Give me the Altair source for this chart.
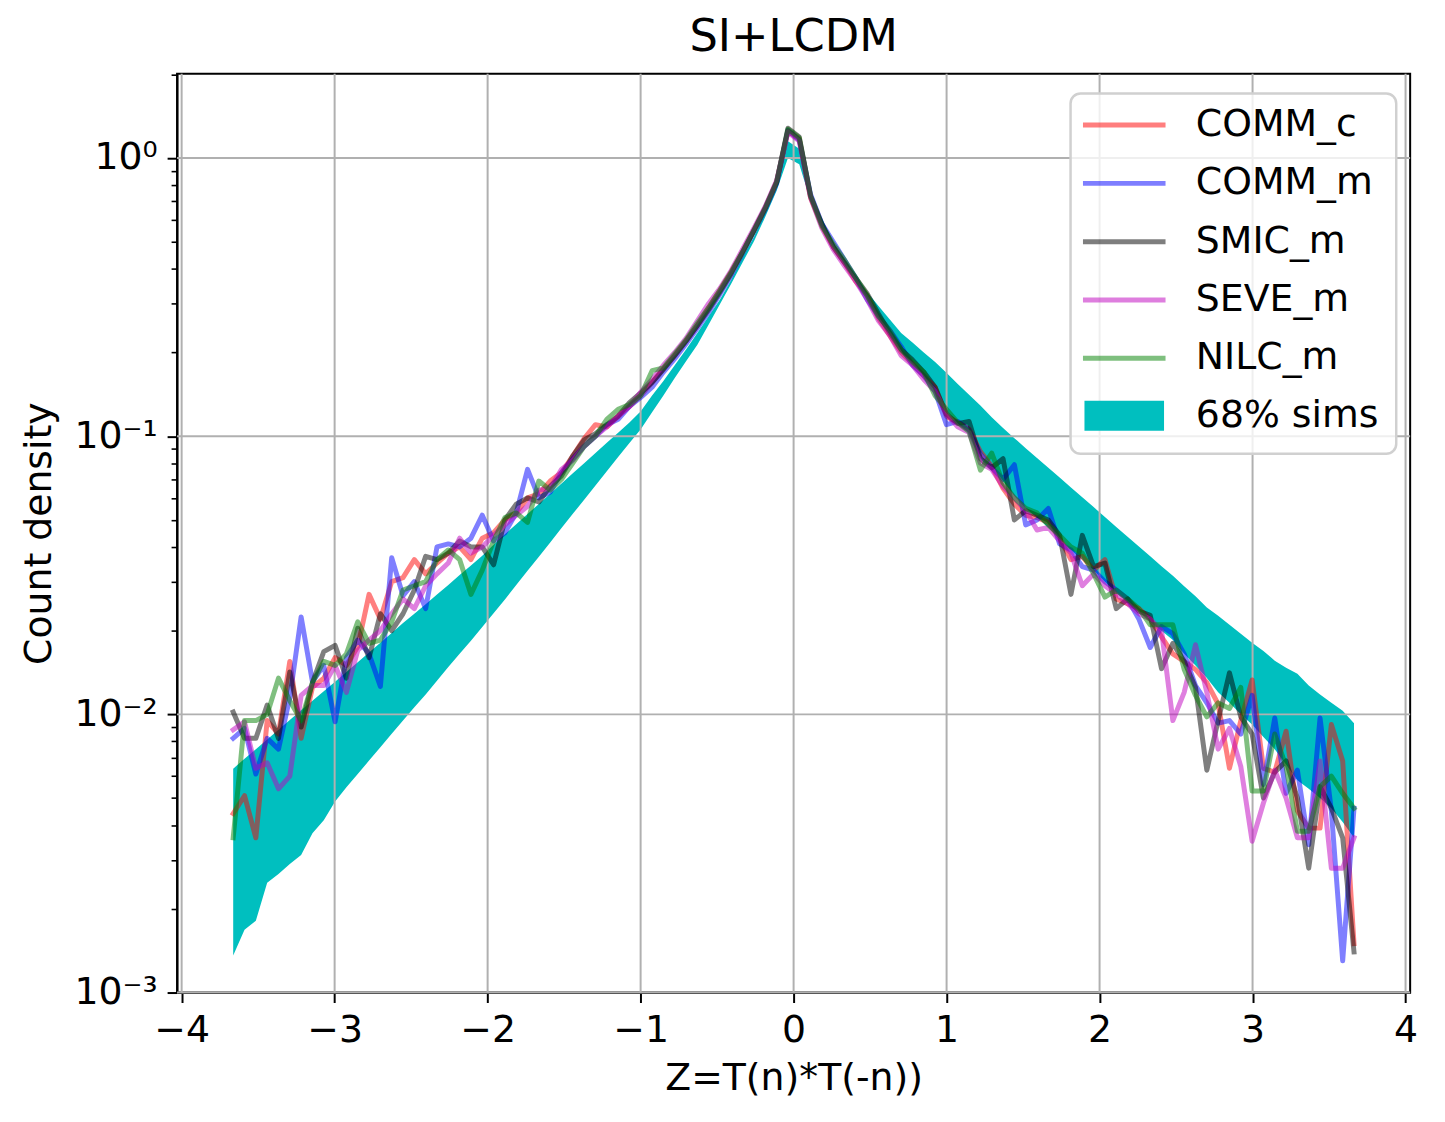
import altair as alt
import pandas as pd

# ---------------- data ----------------
x_centers = [-3.663, -3.589, -3.515, -3.441, -3.367, -3.293, -3.219, -3.145, -3.071, -2.997,
             -2.923, -2.849, -2.775, -2.701, -2.627, -2.553, -2.479, -2.405, -2.331, -2.257,
             -2.183, -2.109, -2.035, -1.961, -1.887, -1.813, -1.739, -1.665, -1.591, -1.517,
             -1.443, -1.369, -1.295, -1.221, -1.147, -1.073, -0.999, -0.925, -0.851, -0.777,
             -0.703, -0.629, -0.555, -0.481, -0.407, -0.333, -0.259, -0.185, -0.111, -0.037,
             0.037, 0.111, 0.185, 0.259, 0.333, 0.407, 0.481, 0.555, 0.629, 0.703,
             0.777, 0.851, 0.925, 0.999, 1.073, 1.147, 1.221, 1.295, 1.369, 1.443,
             1.517, 1.591, 1.665, 1.739, 1.813, 1.887, 1.961, 2.035, 2.109, 2.183,
             2.257, 2.331, 2.405, 2.479, 2.553, 2.627, 2.701, 2.775, 2.849, 2.923,
             2.997, 3.071, 3.145, 3.219, 3.293, 3.367, 3.441, 3.515, 3.589, 3.663]

comm_c = [0.0044, 0.0051, 0.0036, 0.0095, 0.0085, 0.0155, 0.0082, 0.0125, 0.0135, 0.0160,
          0.0150, 0.0175, 0.0270, 0.0220, 0.0300, 0.0310, 0.0360, 0.0320, 0.0350, 0.0380,
          0.0400, 0.0360, 0.0430, 0.0450, 0.0500, 0.0530, 0.0600, 0.0620, 0.0690, 0.0740,
          0.0850, 0.0980, 0.1100, 0.1080, 0.1180, 0.1280, 0.1400, 0.1560, 0.1750, 0.1950,
          0.220, 0.250, 0.290, 0.335, 0.390, 0.460, 0.550, 0.660, 0.820, 1.250,
          1.17, 0.72, 0.57, 0.48, 0.42, 0.36, 0.32, 0.265, 0.23, 0.20,
          0.182, 0.165, 0.150, 0.118, 0.112, 0.106, 0.088, 0.078, 0.065, 0.057,
          0.052, 0.051, 0.049, 0.043, 0.036, 0.037, 0.033, 0.036, 0.026, 0.025,
          0.024, 0.022, 0.019, 0.0165, 0.0155, 0.0145, 0.013, 0.0109, 0.0064, 0.0095,
          0.0133, 0.0064, 0.0062, 0.0087, 0.0045, 0.0039, 0.0039, 0.0092, 0.0068, 0.0015]

comm_m = [0.0082, 0.0089, 0.0061, 0.0082, 0.0075, 0.0115, 0.0224, 0.0131, 0.0150, 0.0094,
          0.0160, 0.0185, 0.0165, 0.0126, 0.0366, 0.0267, 0.0300, 0.0240, 0.0400, 0.0410,
          0.0400, 0.0430, 0.0520, 0.0420, 0.0450, 0.0530, 0.0760, 0.0600, 0.0630, 0.0740,
          0.0830, 0.0920, 0.1000, 0.1100, 0.1150, 0.1280, 0.1380, 0.1500, 0.1700, 0.1900,
          0.215, 0.245, 0.280, 0.325, 0.380, 0.455, 0.545, 0.655, 0.810, 1.260,
          1.16, 0.74, 0.58, 0.50, 0.43, 0.37, 0.31, 0.27, 0.24, 0.21,
          0.18, 0.165, 0.145, 0.110, 0.113, 0.105, 0.086, 0.077, 0.070, 0.079,
          0.048, 0.050, 0.055, 0.041, 0.039, 0.034, 0.033, 0.030, 0.028, 0.026,
          0.022, 0.0174, 0.0207, 0.0195, 0.0165, 0.0127, 0.011, 0.0093, 0.0095, 0.0085,
          0.0117, 0.0056, 0.0097, 0.0052, 0.0063, 0.0034, 0.0097, 0.0045, 0.0013, 0.0046]

smic_m = [0.0102, 0.0082, 0.0082, 0.0108, 0.0082, 0.0142, 0.0090, 0.0130, 0.0168, 0.0177,
          0.0135, 0.0204, 0.0160, 0.0230, 0.0200, 0.0230, 0.0280, 0.0370, 0.0360, 0.0380,
          0.0420, 0.0400, 0.0400, 0.0345, 0.0500, 0.0570, 0.0600, 0.0580, 0.0660, 0.0720,
          0.0850, 0.0970, 0.1020, 0.1100, 0.1180, 0.1320, 0.1430, 0.1560, 0.1740, 0.1950,
          0.220, 0.250, 0.285, 0.330, 0.385, 0.460, 0.550, 0.665, 0.820, 1.280,
          1.19, 0.73, 0.58, 0.48, 0.42, 0.37, 0.325, 0.275, 0.235, 0.205,
          0.188, 0.17, 0.15, 0.12, 0.111, 0.113, 0.083, 0.077, 0.083, 0.050,
          0.054, 0.052, 0.050, 0.044, 0.027, 0.044, 0.034, 0.035, 0.024, 0.026,
          0.0235, 0.0227, 0.0146, 0.018, 0.0155, 0.0125, 0.0063, 0.0095, 0.0141, 0.0098,
          0.0085, 0.0050, 0.0062, 0.0068, 0.0050, 0.0028, 0.0055, 0.0046, 0.0036, 0.0014]

seve_m = [0.0088, 0.0094, 0.0064, 0.0067, 0.0054, 0.0060, 0.0117, 0.0127, 0.0127, 0.0150,
          0.0120, 0.0170, 0.0185, 0.0200, 0.0230, 0.0260, 0.0240, 0.0290, 0.0320, 0.0350,
          0.0430, 0.0380, 0.0400, 0.0440, 0.0480, 0.0520, 0.0560, 0.0640, 0.0650, 0.0760,
          0.0820, 0.0920, 0.1000, 0.1080, 0.1180, 0.1280, 0.1440, 0.1600, 0.1800, 0.2000,
          0.225, 0.260, 0.300, 0.340, 0.395, 0.470, 0.560, 0.670, 0.830, 1.240,
          1.15, 0.72, 0.56, 0.47, 0.41, 0.36, 0.31, 0.26, 0.23, 0.195,
          0.18, 0.16, 0.145, 0.12, 0.108, 0.103, 0.080, 0.076, 0.066, 0.060,
          0.054, 0.046, 0.047, 0.042, 0.038, 0.029, 0.032, 0.029, 0.027, 0.025,
          0.023, 0.022, 0.020, 0.0095, 0.012, 0.0178, 0.012, 0.0075, 0.0089, 0.0065,
          0.0035, 0.0048, 0.0063, 0.0050, 0.0036, 0.0036, 0.0068, 0.0028, 0.0028, 0.0036]

nilc_m = [0.0036, 0.0095, 0.0095, 0.0100, 0.0135, 0.0112, 0.0095, 0.0130, 0.0155, 0.0150,
          0.0165, 0.0215, 0.0180, 0.0185, 0.0215, 0.0280, 0.0290, 0.0300, 0.0360, 0.0390,
          0.0360, 0.0270, 0.0330, 0.0420, 0.0510, 0.0530, 0.0490, 0.0690, 0.0640, 0.0700,
          0.0800, 0.0920, 0.1000, 0.1150, 0.1250, 0.1300, 0.1400, 0.1720, 0.1760, 0.1980,
          0.222, 0.255, 0.290, 0.335, 0.390, 0.460, 0.550, 0.660, 0.820, 1.270,
          1.18, 0.73, 0.57, 0.49, 0.43, 0.37, 0.32, 0.27, 0.24, 0.205,
          0.185, 0.17, 0.14, 0.125, 0.112, 0.104, 0.0755, 0.087, 0.068, 0.060,
          0.055, 0.053, 0.048, 0.044, 0.040, 0.038, 0.032, 0.0264, 0.028, 0.026,
          0.024, 0.021, 0.021, 0.021, 0.0145, 0.0117, 0.0098, 0.011, 0.0105, 0.0125,
          0.0053, 0.0053, 0.0085, 0.0065, 0.0038, 0.0038, 0.0055, 0.006, 0.0052, 0.0046]

band_lo = [0.00136, 0.00168, 0.00181, 0.00248, 0.00267, 0.0029, 0.00312, 0.00374, 0.00416, 0.00486,
           0.00547, 0.00611, 0.00682, 0.00762, 0.00851, 0.0095, 0.0106, 0.0118, 0.0132, 0.0148,
           0.0165, 0.0184, 0.0206, 0.0231, 0.0259, 0.0292, 0.0328, 0.0369, 0.0415, 0.0468,
           0.0526, 0.0591, 0.0665, 0.0748, 0.0841, 0.0946, 0.106, 0.122, 0.140, 0.162,
           0.186, 0.213, 0.252, 0.299, 0.354, 0.422, 0.502, 0.615, 0.762, 1.0,
           0.95, 0.70, 0.57, 0.48, 0.42, 0.365, 0.315, 0.268, 0.232, 0.203,
           0.183, 0.166, 0.147, 0.123, 0.111, 0.103, 0.088, 0.079, 0.069, 0.061,
           0.055, 0.051, 0.047, 0.043, 0.039, 0.036, 0.033, 0.030, 0.0275, 0.0255,
           0.0235, 0.0215, 0.020, 0.0185, 0.0165, 0.015, 0.0135, 0.012, 0.011, 0.0100,
           0.0092, 0.0083, 0.0075, 0.0066, 0.0058, 0.0054, 0.0050, 0.0046, 0.0041, 0.0036]

band_hi = [0.00638, 0.00693, 0.0075, 0.00813, 0.00881, 0.00955, 0.01035, 0.0112, 0.0121, 0.0131,
           0.0142, 0.0154, 0.0167, 0.0181, 0.0196, 0.0213, 0.0230, 0.0249, 0.0270, 0.0292,
           0.0317, 0.0343, 0.0372, 0.0407, 0.0444, 0.0482, 0.0525, 0.0571, 0.0621, 0.0676,
           0.0736, 0.080, 0.0871, 0.0948, 0.103, 0.112, 0.123, 0.140, 0.158, 0.180,
           0.205, 0.235, 0.270, 0.310, 0.365, 0.440, 0.520, 0.640, 0.780, 1.15,
           1.08, 0.73, 0.607, 0.497, 0.43, 0.377, 0.33, 0.294, 0.263, 0.235,
           0.217, 0.2, 0.185, 0.169, 0.154, 0.141, 0.129, 0.117, 0.107, 0.0984,
           0.0906, 0.0835, 0.077, 0.071, 0.0654, 0.0603, 0.0556, 0.0512, 0.0472, 0.0435,
           0.0401, 0.037, 0.0341, 0.0315, 0.0289, 0.0266, 0.0242, 0.0226, 0.021, 0.0195,
           0.0181, 0.0169, 0.0156, 0.0147, 0.014, 0.0127, 0.0118, 0.011, 0.0103, 0.0093]

series_names = ["COMM_c", "COMM_m", "SMIC_m", "SEVE_m", "NILC_m"]
series_values = [comm_c, comm_m, smic_m, seve_m, nilc_m]
series_colors = ["#ff0000", "#0000ff", "#000000", "#bf00bf", "#008000"]
band_label = "68% sims"
band_color = "#00bfbf"

x_ticks = [-4, -3, -2, -1, 0, 1, 2, 3, 4]
y_grid = [0.001, 0.01, 0.1, 1.0]
y_ticks = [round(m * d, 6) for d in y_grid for m in range(1, 10) if m * d < 2.01]

# ---------------- tables ----------------
rows = []
for name, vals in zip(series_names, series_values):
    for xv, yv in zip(x_centers, vals):
        rows.append({"x": xv, "y": yv, "series": name})
lines_df = pd.DataFrame(rows)
band_df = pd.DataFrame({"x": x_centers, "lo": band_lo, "hi": band_hi, "label": band_label})
xgrid_df = pd.DataFrame({"x": x_ticks})
ygrid_df = pd.DataFrame({"y": y_grid})

FONT = "DejaVu Sans"
xscale = alt.Scale(domain=[-4.03, 4.03], nice=False, zero=False)
yscale = alt.Scale(type="log", domain=[0.001, 2.01], nice=False)

major = "abs(log(datum.value)/LN10 - round(log(datum.value)/LN10)) < 0.001"

xaxis = alt.Axis(
    values=x_ticks, grid=False,
    labelExpr="datum.value < 0 ? '\u2212' + abs(datum.value) : '' + datum.value",
    labelFont=FONT, labelFontSize=38, labelColor="black", labelPadding=9,
    labelOverlap=False, labelFlush=False,
    tickSize=10, tickWidth=2, tickColor="black",
    domainColor="black", domainWidth=2,
    title="Z=T(n)*T(-n))", titleFont=FONT, titleFontSize=38,
    titleFontWeight="normal", titleColor="black", titlePadding=10,
)
yaxis = alt.Axis(
    values=y_ticks, grid=False,
    labelExpr=("abs(datum.value-1)<1e-9 ? '10\u2070' : "
               "abs(datum.value-0.1)<1e-9 ? '10\u207b\u00b9' : "
               "abs(datum.value-0.01)<1e-9 ? '10\u207b\u00b2' : "
               "abs(datum.value-0.001)<1e-9 ? '10\u207b\u00b3' : ''"),
    labelFont=FONT, labelFontSize=38, labelColor="black", labelPadding=10,
    labelOverlap=False, labelFlush=False,
    tickSize={"condition": {"test": major, "value": 10}, "value": 6},
    tickWidth={"condition": {"test": major, "value": 2}, "value": 1.6},
    tickColor="black", domainColor="black", domainWidth=2,
    title="Count density", titleFont=FONT, titleFontSize=38,
    titleFontWeight="normal", titleColor="black", titlePadding=16,
)

X = alt.X("x:Q", scale=xscale, axis=xaxis)

band = alt.Chart(band_df).mark_area(opacity=1, strokeWidth=0).encode(
    x=X,
    y=alt.Y("lo:Q", scale=yscale, axis=yaxis),
    y2="hi:Q",
    fill=alt.Fill(
        "label:N",
        scale=alt.Scale(domain=[band_label], range=[band_color]),
        legend=alt.Legend(
            orient="none", legendX=933.5, legendY=325, title=None, padding=0,
            symbolType="M-2.667,-1H2.667V1H-2.667Z", symbolSize=900,
            symbolStrokeWidth=0, symbolOpacity=1,
            labelFont=FONT, labelFontSize=38, labelColor="black",
            labelOffset=53, labelLimit=400,
        ),
    ),
)

xgrid = alt.Chart(xgrid_df).mark_rule(color="#b0b0b0", strokeWidth=2).encode(x=X)
ygrid = alt.Chart(ygrid_df).mark_rule(color="#b0b0b0", strokeWidth=2).encode(
    y=alt.Y("y:Q", scale=yscale, axis=yaxis)
)

stroke_enc = alt.Stroke(
    "series:N",
    scale=alt.Scale(domain=series_names, range=series_colors),
    legend=alt.Legend(
        orient="none", legendX=933.5, legendY=32.7, title=None, padding=0,
        symbolType="M-2.767,0H2.767", symbolSize=900, symbolStrokeWidth=5,
        symbolOpacity=0.5, rowPadding=20.6,
        labelFont=FONT, labelFontSize=38, labelColor="black",
        labelOffset=53, labelLimit=400,
    ),
)

line_layers = []
for name in series_names:
    line_layers.append(
        alt.Chart(lines_df).transform_filter(alt.datum.series == name)
        .mark_line(strokeWidth=5, opacity=0.5, strokeJoin="round", strokeCap="square")
        .encode(x=X, y=alt.Y("y:Q", scale=yscale, axis=yaxis), stroke=stroke_enc)
    )

frame = alt.Chart(pd.DataFrame({"a": [0]})).mark_rect(
    fill="white", fillOpacity=0.8, stroke="#d0d0d0", strokeWidth=2.5, cornerRadius=10
).encode(
    x=alt.value(898.5), x2=alt.value(1226), y=alt.value(20), y2=alt.value(382.3)
)

chart = alt.layer(band, xgrid, ygrid, *line_layers, frame).properties(
    width=1240, height=924,
    title=alt.TitleParams("SI+LCDM", font=FONT, fontSize=45, fontWeight="normal",
                          color="black", anchor="middle", offset=-5),
    autosize=alt.AutoSizeParams(type="none"),
    padding={"left": 170, "top": 63, "right": 27, "bottom": 105},
    background="white",
).configure_view(stroke="black", strokeWidth=2)

chart.save("out.html", embed_options={"renderer": "svg", "actions": False})
